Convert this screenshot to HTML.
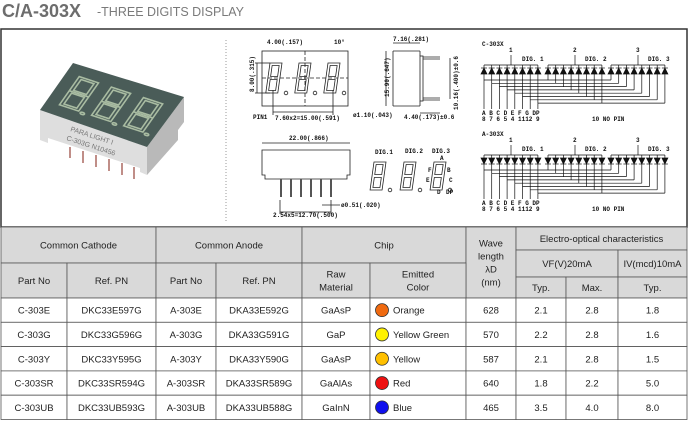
<!DOCTYPE html>
<html><head><meta charset="utf-8">
<style>
html,body{margin:0;padding:0;background:#fff;}
svg{display:block;font-family:"Liberation Sans",sans-serif;}
.t{font-size:9.5px;fill:#222;text-anchor:middle;}
.d{font-size:6px;fill:#111;font-weight:bold;font-family:"Liberation Mono",monospace;}
</style></head><body>
<svg id="s" width="688" height="421" viewBox="0 0 688 421" xmlns="http://www.w3.org/2000/svg">
<text x="2" y="17" font-size="18" font-weight="bold" fill="#6d6d6d">C/A-303X</text>
<text x="97" y="16" font-size="12.5" fill="#7a7a7a">-THREE DIGITS DISPLAY</text>
<rect x="1" y="29" width="686" height="198" fill="#fff" stroke="#333" stroke-width="1.5"/>
<line x1="226" y1="40" x2="226" y2="222" stroke="#999" stroke-dasharray="1,2"/>
<!-- photo -->
<g>
<polygon points="147,147 184,97 184,122 178,130 178,140 147,175" fill="#b9b9b9"/>
<polygon points="40,110 147,147 147,175 140,172 140,168 48,138 48,143 40,140" fill="#dedede"/>
<polygon points="40,110 73,63 184,97 147,147" fill="#4a5c58"/>
<g id="pd" fill="none" stroke="#a9bca2" stroke-width="1.6" transform="matrix(1.07,0.35,0.33,-0.47,40,110)"></g>
<g stroke="#b0726a" stroke-width="1.6">
<line x1="70" y1="147" x2="70" y2="158"/><line x1="83" y1="151" x2="83" y2="163"/>
<line x1="96" y1="155" x2="96" y2="167"/><line x1="109" y1="159" x2="109" y2="171"/>
<line x1="122" y1="163" x2="122" y2="175"/><line x1="134" y1="167" x2="134" y2="179"/>
</g>
<text x="70" y="131" font-size="7" fill="#777" transform="rotate(18 70 131)">PARA  LIGHT  I</text>
<text x="66" y="140" font-size="7" fill="#777" transform="rotate(18 66 140)">C-303G N10456</text>
</g>
<!-- dimension drawings -->
<g fill="none" stroke="#222" stroke-width="0.8">
<rect x="262" y="51" width="86" height="55"/>
<line x1="262" y1="78" x2="348" y2="78" stroke-dasharray="4,2"/>
<line x1="305" y1="51" x2="305" y2="106" stroke-dasharray="4,2"/>
<line x1="255" y1="63" x2="270" y2="63"/><line x1="255" y1="93" x2="270" y2="93"/><line x1="257" y1="63" x2="257" y2="93"/>
<line x1="273" y1="90" x2="273" y2="115"/><line x1="333" y1="90" x2="333" y2="115"/><line x1="273" y1="112" x2="333" y2="112"/>
<line x1="393" y1="51" x2="420" y2="51"/><line x1="393" y1="51" x2="393" y2="106"/><line x1="393" y1="106" x2="420" y2="106"/>
<line x1="420" y1="51" x2="420" y2="56"/><line x1="420" y1="101" x2="420" y2="106"/>
<rect x="420" y="56" width="3" height="45"/>
<line x1="423" y1="57" x2="440" y2="57"/><line x1="423" y1="59" x2="440" y2="59"/>
<line x1="423" y1="98" x2="440" y2="98"/><line x1="423" y1="100" x2="440" y2="100"/>
<line x1="386" y1="51" x2="386" y2="106"/><line x1="393" y1="43" x2="420" y2="43"/>
<line x1="450" y1="58" x2="450" y2="99"/>
<line x1="420" y1="113" x2="440" y2="113"/>
<line x1="262" y1="143" x2="350" y2="143"/>
<path d="M262,150 h88 v25 h-3 v4 h-82 v-4 h-3 z"/>
<line x1="322" y1="205" x2="340" y2="205"/><line x1="280" y1="200" x2="280" y2="214"/><line x1="331" y1="200" x2="331" y2="214"/><line x1="280" y1="212" x2="331" y2="212"/>
</g>
<g stroke="#555" stroke-width="2">
<line x1="281" y1="179" x2="281" y2="197"/><line x1="291" y1="179" x2="291" y2="197"/><line x1="301" y1="179" x2="301" y2="197"/>
<line x1="311" y1="179" x2="311" y2="197"/><line x1="321" y1="179" x2="321" y2="197"/><line x1="331" y1="179" x2="331" y2="197"/>
</g>
<g id="digs" fill="none" stroke="#222" stroke-width="0.8"></g>
<g class="d">
<text x="267" y="44">4.00(.157)</text><text x="334" y="44">10°</text>
<text x="254" y="92" transform="rotate(-90 254 92)">8.00(.315)</text>
<text x="253" y="119">PIN1</text><text x="275" y="120">7.60x2=15.00(.591)</text>
<text x="353" y="117">ø1.10(.043)</text>
<text x="393" y="41">7.16(.281)</text>
<text x="389" y="97" transform="rotate(-90 389 97)">15.90(.647)</text>
<text x="458" y="110" transform="rotate(-90 458 110)">10.16(.400)±0.6</text>
<text x="404" y="119">4.40(.173)±0.6</text>
<text x="289" y="140">22.00(.866)</text>
<text x="341" y="207">ø0.51(.020)</text>
<text x="273" y="217">2.54x5=12.70(.500)</text>
<text x="375" y="154">DIG.1</text><text x="405" y="153">DIG.2</text><text x="432" y="153">DIG.3</text>
<text x="440" y="160">A</text><text x="428" y="172">F</text><text x="447" y="172">B</text><text x="426" y="182">E</text><text x="449" y="182">C</text><text x="437" y="194">D</text><text x="446" y="194">DP</text>
</g>
<!-- schematic -->
<g id="sch" stroke="#111" stroke-width="0.7" fill="none"></g>
<g class="d" font-size="6.5">
<text x="482" y="46">C-303X</text>
<text x="509" y="52">1</text><text x="573" y="52">2</text><text x="636" y="52">3</text>
<text x="522" y="61">DIG. 1</text><text x="585" y="61">DIG. 2</text><text x="648" y="61">DIG. 3</text>
<text x="592" y="121">10 NO PIN</text>
<text x="482" y="136">A-303X</text>
<text x="509" y="142">1</text><text x="573" y="142">2</text><text x="636" y="142">3</text>
<text x="522" y="151">DIG. 1</text><text x="585" y="151">DIG. 2</text><text x="648" y="151">DIG. 3</text>
<text x="592" y="211">10 NO PIN</text>
<text x="482" y="115">A B C D E F G DP</text><text x="482" y="121">8 7 6 5 4 1112 9</text>
<text x="482" y="205">A B C D E F G DP</text><text x="482" y="211">8 7 6 5 4 1112 9</text>
</g>
<g id="tbl"></g>
</svg>
<script>
var NS="http://www.w3.org/2000/svg";
function el(p,n,a,txt){var e=document.createElementNS(NS,n);for(var k in a)e.setAttribute(k,a[k]);if(txt!=null)e.textContent=txt;p.appendChild(e);return e;}
// photo digits (u along front edge, v up)
var pd=document.getElementById('pd');
[12,42,72].forEach(function(u){
 var w=18,v0=20,h=60,m=h/2;
 var d='M'+u+','+v0+' h'+w+' v'+h+' h-'+w+' z M'+u+','+(v0+m)+' h'+w;
 el(pd,'path',{d:d,'vector-effect':'non-scaling-stroke'});
 el(pd,'path',{d:'M'+(u+3)+','+(v0+4)+' h'+(w-6)+' v'+(m-7)+' h-'+(w-6)+' z M'+(u+3)+','+(v0+m+3)+' h'+(w-6)+' v'+(m-7)+' h-'+(w-6)+' z','vector-effect':'non-scaling-stroke'});
 el(pd,'circle',{cx:u+w+4,cy:v0-2,r:2,'vector-effect':'non-scaling-stroke'});
});
// drawing digits
var dg=document.getElementById('digs');
function digit(x,y,w,h){var m=h/2;
 var g=el(dg,'g',{transform:'translate('+x+','+y+') skewX(-8)'});
 el(g,'rect',{x:0,y:0,width:w,height:h});
 el(g,'rect',{x:2.5,y:2.5,width:w-5,height:m-4});
 el(g,'rect',{x:2.5,y:m+1.5,width:w-5,height:m-4});
 el(dg,'circle',{cx:x+w+4,cy:y+h,r:1.8});}
[[270,63],[299,63],[328,63]].forEach(function(p){digit(p[0],p[1],12,30);});
[[374,162],[404,162],[434,162]].forEach(function(p){digit(p[0],p[1],12,28);});
// schematic
var sc=document.getElementById('sch');
function block(oy,up){
 var starts=[484,548,611],sp=7.7;
 starts.forEach(function(sx,g){
  el(sc,'line',{x1:sx,y1:oy+65,x2:sx+7*sp,y2:oy+65});
  var px=[511,575,638][g];
  el(sc,'line',{x1:px,y1:oy+55,x2:px,y2:oy+65});
  for(var k=0;k<8;k++){var x=sx+k*sp;
   el(sc,'line',{x1:x,y1:oy+65,x2:x,y2:oy+68});
   var pts=up?(x-3)+','+(oy+74)+' '+(x+3)+','+(oy+74)+' '+x+','+(oy+68):(x-3)+','+(oy+68)+' '+(x+3)+','+(oy+68)+' '+x+','+(oy+74);
   el(sc,'polygon',{points:pts,fill:'#111'});
   el(sc,'line',{x1:x-3,y1:up?oy+68:oy+74,x2:x+3,y2:up?oy+68:oy+74});
   var ly=oy+80+k*3.3;
   el(sc,'line',{x1:x,y1:oy+74,x2:x,y2:ly});
  }
 });
 for(var k=0;k<8;k++){var ly=oy+80+k*3.3,x0=484+k*7.7,x1=611+k*7.7;
  el(sc,'line',{x1:x0,y1:ly,x2:x1,y2:ly});
  el(sc,'line',{x1:x0,y1:ly,x2:x0,y2:oy+109});
 }
}
block(0,true);block(90,false);
// table
var t=document.getElementById('tbl');
var G='#d9d9d9';
function cell(x1,y1,x2,y2,txt,bg){el(t,'rect',{x:x1,y:y1,width:x2-x1,height:y2-y1,fill:bg||'#fff',stroke:'#555','stroke-width':0.8});
 if(txt){var ls=txt.split('|'),cy=(y1+y2)/2+3.5-(ls.length-1)*6.5;ls.forEach(function(l,i){el(t,'text',{x:(x1+x2)/2,y:cy+i*13,'class':'t'},l);});}}
cell(1,227,156,263,'Common Cathode',G);cell(156,227,302,263,'Common Anode',G);cell(302,227,466,263,'Chip',G);
cell(466,227,516,298,'Wave|length|λD|(nm)',G);cell(516,227,687,250,'Electro-optical characteristics',G);
cell(516,250,618,277,'VF(V)20mA',G);cell(618,250,687,277,'IV(mcd)10mA',G);
cell(516,277,566,298,'Typ.',G);cell(566,277,618,298,'Max.',G);cell(618,277,687,298,'Typ.',G);
cell(1,263,67,298,'Part No',G);cell(67,263,156,298,'Ref. PN',G);cell(156,263,216,298,'Part No',G);cell(216,263,302,298,'Ref. PN',G);
cell(302,263,370,298,'Raw|Material',G);cell(370,263,466,298,'Emitted|Color',G);
var rows=[['C-303E','DKC33E597G','A-303E','DKA33E592G','GaAsP','#f06a10','Orange','628','2.1','2.8','1.8'],
['C-303G','DKC33G596G','A-303G','DKA33G591G','GaP','#fff200','Yellow Green','570','2.2','2.8','1.6'],
['C-303Y','DKC33Y595G','A-303Y','DKA33Y590G','GaAsP','#ffc000','Yellow','587','2.1','2.8','1.5'],
['C-303SR','DKC33SR594G','A-303SR','DKA33SR589G','GaAlAs','#ee1111','Red','640','1.8','2.2','5.0'],
['C-303UB','DKC33UB593G','A-303UB','DKA33UB588G','GaInN','#1010ee','Blue','465','3.5','4.0','8.0']];
var xs=[1,67,156,216,302,370,466,516,566,618,687];
rows.forEach(function(r,i){var y1=298+i*24.3,y2=y1+24.3;
 var vals=[r[0],r[1],r[2],r[3],r[4],null,r[7],r[8],r[9],r[10]];
 for(var c=0;c<10;c++)cell(xs[c],y1,xs[c+1],y2,vals[c]);
 el(t,'circle',{cx:382,cy:(y1+y2)/2,r:6.5,fill:r[5],stroke:'#333','stroke-width':0.8});
 el(t,'text',{x:393,y:(y1+y2)/2+3.5,'class':'t',style:'text-anchor:start'},r[6]);
});
</script>
</body></html>
